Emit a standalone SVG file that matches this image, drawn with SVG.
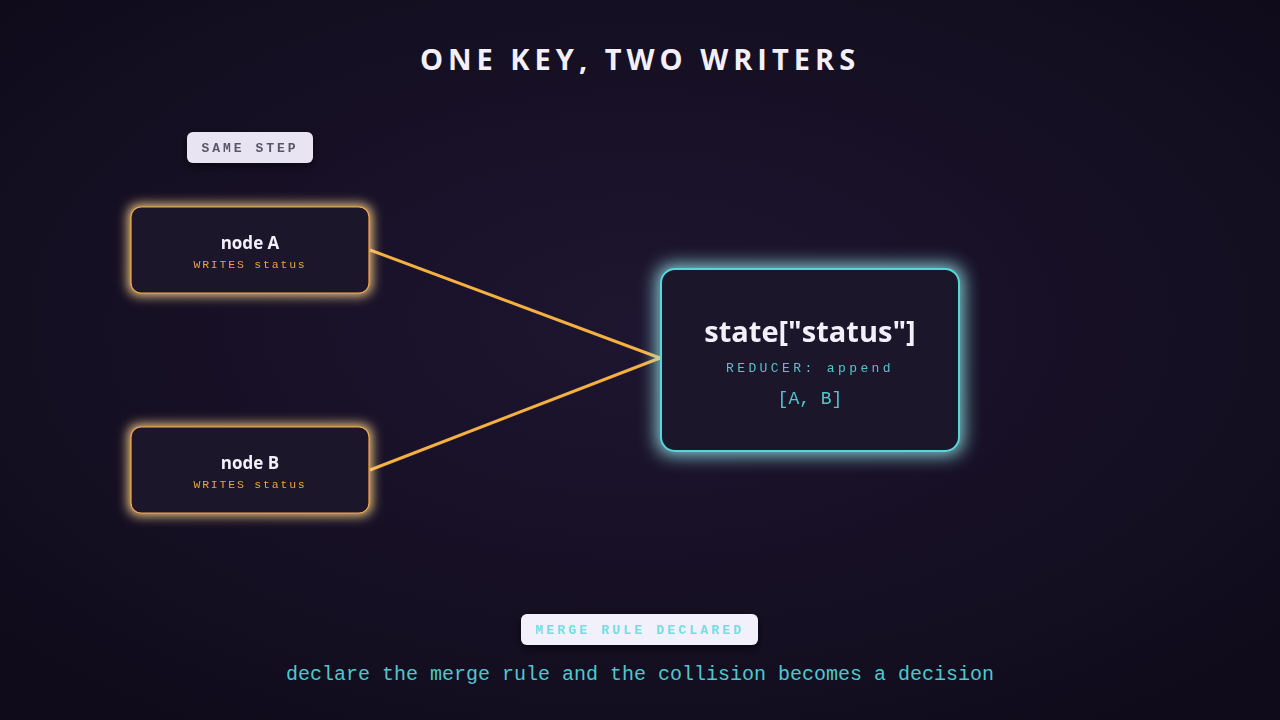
<svg xmlns="http://www.w3.org/2000/svg" width="1280" height="720" viewBox="0 0 1280 720">
<defs>
<radialGradient id="bg" cx="50%" cy="45%" r="70%"><stop offset="0" stop-color="#1e1530"/><stop offset="1" stop-color="#0f0b1a"/></radialGradient>
<filter id="go" x="-30%" y="-50%" width="160%" height="200%"><feMorphology in="SourceAlpha" operator="dilate" radius="2"/><feGaussianBlur stdDeviation="6"/><feComponentTransfer><feFuncA type="linear" slope="1"/></feComponentTransfer><feColorMatrix type="matrix" values="0 0 0 0 0.96 0 0 0 0 0.65 0 0 0 0 0.26 0 0 0 1 0"/><feMerge><feMergeNode/><feMergeNode in="SourceGraphic"/></feMerge></filter>
<filter id="gc" x="-30%" y="-40%" width="160%" height="180%"><feMorphology in="SourceAlpha" operator="dilate" radius="3"/><feGaussianBlur stdDeviation="9"/><feComponentTransfer><feFuncA type="linear" slope="0.9"/></feComponentTransfer><feColorMatrix type="matrix" values="0 0 0 0 0.31 0 0 0 0 0.84 0 0 0 0 0.86 0 0 0 1 0"/><feMerge><feMergeNode/><feMergeNode in="SourceGraphic"/></feMerge></filter>
<filter id="sh" x="-30%" y="-60%" width="160%" height="260%"><feDropShadow dx="0" dy="3" stdDeviation="5" flood-color="#000" flood-opacity="0.6"/></filter>
<style>
.t{font-family:"Open Sans","Noto Sans",sans-serif;font-weight:700;fill:#f4f0fa;text-anchor:middle}
.m{font-family:"Liberation Mono",monospace;text-anchor:middle}
.src{fill:#1c142c;stroke:#f5a742;stroke-width:1.2}
.conn{stroke:#f5b042;stroke-width:3;fill:none}
</style>
</defs>
<rect width="1280" height="720" fill="url(#bg)"/>
<text x="640" y="70" class="t" font-size="29" letter-spacing="5">ONE KEY, TWO WRITERS</text>
<g id="label-same-step" filter="url(#sh)"><rect x="187" y="132" width="126" height="31" rx="6" fill="#e8e4f2"/><text x="250" y="152" class="m" font-size="13" fill="#5a5468" letter-spacing="3" font-weight="700">SAME STEP</text></g>
<g id="connectors">
<line class="conn" x1="370" y1="250" x2="660" y2="358"/>
<line class="conn" x1="370" y1="470" x2="660" y2="358"/>
</g>
<g id="node-a" filter="url(#go)"><rect class="src" x="131" y="207" width="238" height="86" rx="10"/><text x="250" y="249" class="t" font-size="17">node A</text><text x="250" y="268" class="m" font-size="11.5" fill="#f0a040" letter-spacing="1.8">WRITES status</text></g>
<g id="node-b" filter="url(#go)"><rect class="src" x="131" y="427" width="238" height="86" rx="10"/><text x="250" y="469" class="t" font-size="17">node B</text><text x="250" y="488" class="m" font-size="11.5" fill="#f0a040" letter-spacing="1.8">WRITES status</text></g>
<g id="state" filter="url(#gc)"><rect x="661" y="269" width="298" height="182" rx="14" fill="#1c142c" stroke="#55d6db" stroke-width="2"/><text x="810" y="342" class="t" font-size="29">state["status"]</text><text x="810" y="372" class="m" font-size="13" fill="#4fc8cc" letter-spacing="3.4">REDUCER: append</text><text x="810" y="404" class="m" font-size="18" fill="#4fc8cc">[A, B]</text></g>
<g id="label-merge" filter="url(#sh)"><rect x="521" y="614" width="237" height="31" rx="6" fill="#f2f0fa"/><text x="640" y="634" class="m" font-size="13" fill="#6ee0e4" letter-spacing="3.2" font-weight="700">MERGE RULE DECLARED</text></g>
<text x="640" y="680" class="m" font-size="20" fill="#4fc8cc">declare the merge rule and the collision becomes a decision</text>
</svg>
